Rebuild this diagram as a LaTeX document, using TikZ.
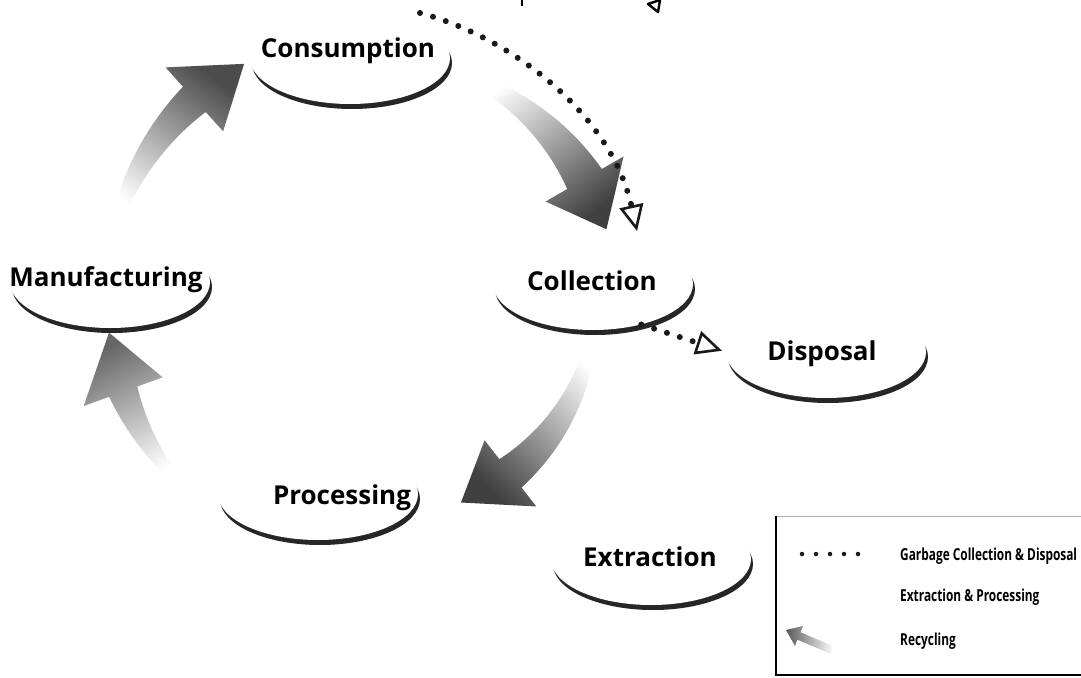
\documentclass[tikz,border=0pt]{standalone}
\usepackage{fontspec}
\setmainfont{Open Sans}
\usetikzlibrary{arrows.meta,shapes.geometric,shadows}
\tikzset{
  ell/.style={ellipse, minimum width=200pt, minimum height=92pt, inner sep=0pt, fill=white,
    drop shadow={shadow xshift=2pt, shadow yshift=-5pt, fill=black, opacity=0.85}},
  lab/.style={font=\fontsize{26}{30}\selectfont\bfseries, inner sep=0pt},
  legtext/.style={anchor=west, font=\fontsize{16.5}{18}\selectfont\bfseries, inner sep=0pt},
  garbage/.style={draw=black!90, line width=6pt, dash pattern=on 0pt off 13.5pt, line cap=round},
  garbagetip/.style={-{Triangle[open, length=26pt, width=24pt, line width=2.6pt]}},
  border/.style={draw=black, line width=1.6pt}
}
% #1 radius, #2 tail half width, #3 shaft half width at head, #4 head half width,
% #5 tail angle, #6 head base angle, #7 tip angle, #8 shading angle, #9 dark colour
\newcommand\recarrow[9]{%
  \shade[shift={(375,300)}, bottom color=white, top color=#9, shading angle=#8]
    plot[domain=0:1, samples=24] ({#5+(#6-#5)*\x}:{#1+#2+(#3-#2)*\x})
    -- (#6:{#1+#4}) -- (#7:#1) -- (#6:{#1-#4})
    -- plot[domain=0:1, samples=24] ({#6-(#6-#5)*\x}:{#1-#3+(#3-#2)*\x})
    -- cycle;}
\begin{document}
\begin{tikzpicture}[x=1pt, y=-1pt]
\fill[white] (0,0) rectangle (1081,677);
\useasboundingbox (0,0) rectangle (1081,677);

% recycling arrows
\recarrow{270}{5}{17}{43}{196}{228}{241}{-36}{black!70}
\recarrow{242}{5}{20}{45}{293}{330}{343}{-142}{black!75}
\recarrow{220}{4}{18}{42}{8}{52}{67}{136}{black!75}
\recarrow{268}{4}{15}{42}{137}{160}{173}{27}{black!60}

% stages
\node[ell] (cons) at (350,58) {};
\node[ell] (coll) at (593,284) {};
\node[ell] (manu) at (110,282) {};
\node[ell] (disp) at (826,352) {};
\node[ell] (proc) at (318,494) {};
\node[ell] (extr) at (651,559) {};

\node[lab] (consT) at (348,51) {Consumption};
\node[lab] (collT) at (592,281) {Collection};
\node[lab] (manuT) at (106,280) {Manufacturing};
\node[lab] (dispT) at (822,354) {Disposal};
\node[lab] (procT) at (342,498) {Processing};
\node[lab] (extrT) at (650,557) {Extraction};

% garbage collection & disposal
\coordinate (gstart) at (420,13);
\coordinate (gend) at (637,231);
\draw[garbage, garbagetip] (gstart) .. controls (505,35) and (610,110) .. (gend);
\draw[garbage, garbagetip, shorten >=4pt] (coll.-40) -- (disp.west);

% cut-off marks at the top edge
\draw[line width=2.5pt] (522,0) -- (522,6);
\draw[line width=2.4pt, line join=round] (648,4) -- (660,0) -- (658,12) -- cycle;

% legend
\draw[draw=black!30, line width=0.6pt] (776,516) -- (1081,516);
\draw[border] (776,516) -- (776,675) -- (1081,675);
\coordinate (lg1a) at (802,554);
\coordinate (lg1b) at (860,554);
\draw[garbage, line width=4.5pt, dash pattern=on 0pt off 14pt] (lg1a) -- (lg1b);
\node[legtext] (lgt1) at (900,556) {\scalebox{0.72}[1]{Garbage Collection \& Disposal}};
\node[legtext] (lgt2) at (900,597) {\scalebox{0.72}[1]{Extraction \& Processing}};
\node[legtext] (lgt3) at (900,641) {\scalebox{0.72}[1]{Recycling}};
\shade[left color=black!65, right color=white]
  (786,630) -- (803,626) -- (800.6,632.3) -- (833.6,646.3) -- (830.4,653.7)
  -- (797.4,639.7) -- (795,646) -- cycle;
\end{tikzpicture}
\end{document}
